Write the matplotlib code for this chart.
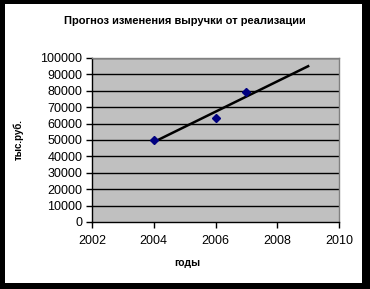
import matplotlib
matplotlib.use("Agg")
import matplotlib.pyplot as plt
from matplotlib.patches import Rectangle
import numpy as np

years = [2004, 2006, 2007]
revenue = [50000, 63500, 79000]
trend_years = [2004, 2009]

x_ticks = [2002, 2004, 2006, 2008, 2010]
y_ticks = list(range(0, 100001, 10000))

title = "Прогноз изменения выручки от реализации"
x_label = "годы"
y_label = "тыс.руб."

plt.rcParams["font.family"] = ["Liberation Sans", "DejaVu Sans"]

W, H = 370, 289
fig = plt.figure(figsize=(W / 100, H / 100), dpi=100, facecolor="black")

# white chart area inside the black frame
fig.patches.append(Rectangle((5 / W, 1 - 283 / H), (362 - 5) / W, (283 - 4) / H,
                             transform=fig.transFigure, facecolor="white",
                             edgecolor="none", zorder=-1))

ax = fig.add_axes([92 / W, 1 - 222 / H, (339 - 92) / W, (222 - 58) / H])
ax.set_zorder(2)
ax.set_facecolor("#c0c0c0")
ax.set_xlim(2002, 2010)
ax.set_ylim(0, 100000)
ax.set_xticks(x_ticks)
ax.set_yticks(y_ticks)
ax.tick_params(labelsize=9, length=4, width=1, color="black", pad=3)
ax.tick_params(axis="x", pad=5)

for y in y_ticks[1:]:
    ax.axhline(y, color="black", lw=1, zorder=1)

for side in ["top", "right"]:
    ax.spines[side].set_color("#808080")
    ax.spines[side].set_linewidth(1)
for side in ["left", "bottom"]:
    ax.spines[side].set_color("black")
    ax.spines[side].set_linewidth(1)

# linear trend extended to 2009
k, b = np.polyfit(years, revenue, 1)
tx = np.array(trend_years)
ax.plot(tx, k * tx + b, color="black", lw=1.8, zorder=3, clip_on=False)
ax.plot(years, revenue, linestyle="none", marker="D", markersize=4,
        color="#000080", zorder=4)

fig.text(185 / W, 1 - 21 / H, title, ha="center", va="center",
         fontsize=8, fontweight="bold")
fig.text(187 / W, 1 - 263 / H, x_label, ha="center", va="center",
         fontsize=7.5, fontweight="bold")
fig.text(18 / W, 1 - 140 / H, y_label, ha="center", va="center",
         rotation=90, fontsize=7, fontweight="bold")

fig.savefig("out.png", dpi=100, facecolor=fig.get_facecolor())
